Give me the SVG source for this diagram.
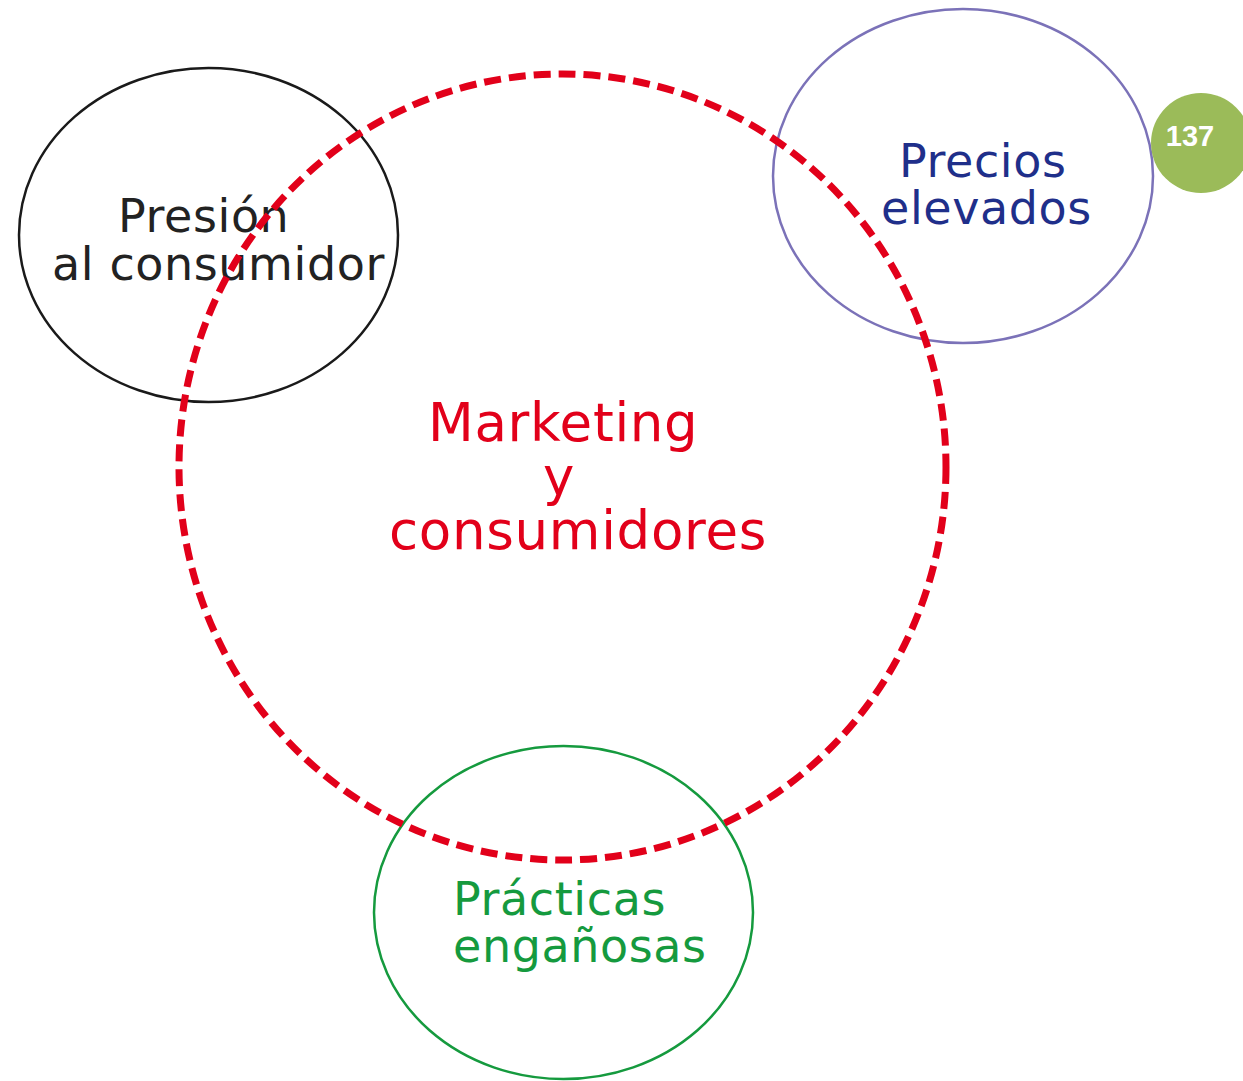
<svg xmlns="http://www.w3.org/2000/svg" width="1243" height="1081" viewBox="0 0 1243 1081">
<style>
.t{font-family:"DejaVu Sans","Liberation Sans",sans-serif;font-size:46px;letter-spacing:0.6px}
.ring{fill:none;stroke-width:2.5}
</style>
<rect width="1243" height="1081" fill="#ffffff"/>
<g id="presion">
<ellipse class="ring" cx="208.5" cy="235" rx="189.5" ry="167" stroke="#1a1a1a"/>
<text class="t" fill="#222222"><tspan x="118" y="232">Presión</tspan><tspan x="52" y="280">al consumidor</tspan></text>
</g>
<g id="precios">
<ellipse class="ring" cx="963" cy="176" rx="190" ry="167" stroke="#7b72b8"/>
<text class="t" fill="#1f2f8a"><tspan x="899" y="177">Precios</tspan><tspan x="881" y="224">elevados</tspan></text>
</g>
<g id="practicas">
<ellipse class="ring" cx="563.5" cy="912.5" rx="189.5" ry="166.5" stroke="#159a3e"/>
<text class="t" fill="#159a3e"><tspan x="453" y="915">Prácticas</tspan><tspan x="453" y="962">engañosas</tspan></text>
</g>
<g id="marketing">
<ellipse cx="562.5" cy="467" rx="383.5" ry="393" fill="none" stroke="#e2001a" stroke-width="7" stroke-dasharray="17 8"/>
<text class="t" fill="#e2001a" style="font-size:53px;letter-spacing:0.7px"><tspan x="428" y="441">Marketing</tspan><tspan x="543" y="495">y</tspan><tspan x="389" y="549">consumidores</tspan></text>
</g>
<g id="badge">
<circle cx="1201" cy="143" r="50" fill="#9bbb59"/>
<text x="1190" y="146" text-anchor="middle" font-family="Liberation Sans, Arial, sans-serif" font-weight="bold" font-size="29" fill="#ffffff">137</text>
</g>
<g id="connectors"></g>
</svg>
